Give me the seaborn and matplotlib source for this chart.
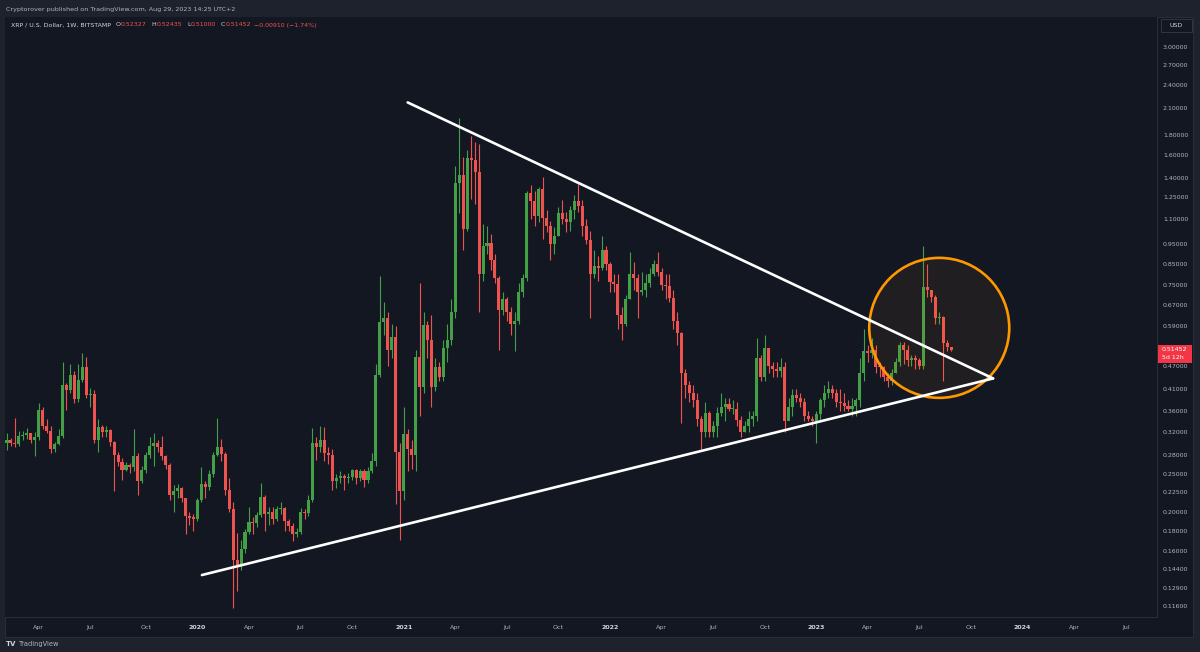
"""XRP/USD weekly candles with the triangle drawn on a TradingView style dark chart."""
import matplotlib
matplotlib.use("Agg")
import matplotlib.pyplot as plt
import matplotlib.dates as mdates
from matplotlib.patches import Rectangle, Ellipse
from matplotlib.ticker import FixedLocator, NullLocator, FuncFormatter
import numpy as np
import pandas as pd
import seaborn as sns

W, H = 1200, 652

# weekly bars, the first one is the week of 2019-02-04
FIRST_WEEK = "2019-02-04"
FIRST_OPEN = 0.299

closes = [
    # 2019
    0.305, 0.300, 0.297, 0.312, 0.314, 0.317, 0.305, 0.310, 0.362, 0.330, 0.322, 0.290,
    0.298, 0.312, 0.420, 0.408, 0.445, 0.387, 0.432, 0.467, 0.395, 0.398, 0.305, 0.329,
    0.320, 0.323, 0.302, 0.280, 0.268, 0.256, 0.264, 0.260, 0.278, 0.240, 0.256, 0.280,
    0.295, 0.300, 0.292, 0.277, 0.264, 0.221, 0.226, 0.230, 0.217, 0.196, 0.194, 0.193,
    # 2020
    0.215, 0.236, 0.232, 0.250, 0.280, 0.292, 0.281, 0.228, 0.204, 0.152, 0.147, 0.162,
    0.179, 0.189, 0.188, 0.197, 0.219, 0.198, 0.200, 0.192, 0.204, 0.205, 0.190, 0.185,
    0.176, 0.178, 0.200, 0.199, 0.215, 0.300, 0.292, 0.305, 0.283, 0.280, 0.240, 0.245,
    0.247, 0.244, 0.246, 0.256, 0.244, 0.254, 0.242, 0.255, 0.270, 0.445, 0.606, 0.620,
    0.513, 0.556, 0.285, 0.226,
    # 2021
    0.315, 0.290, 0.280, 0.495, 0.415, 0.596, 0.545, 0.415, 0.467, 0.440, 0.520, 0.545,
    0.640, 1.356, 1.420, 1.040, 1.570, 1.550, 1.450, 0.800, 0.940, 0.960, 0.870, 0.780,
    0.650, 0.690, 0.640, 0.600, 0.610, 0.720, 0.780, 1.280, 1.220, 1.120, 1.310, 1.110,
    1.060, 0.950, 1.000, 1.140, 1.100, 1.080, 1.160, 1.220, 1.190, 1.060, 0.975, 0.800,
    0.840, 0.830, 0.920, 0.850,
    # 2022
    0.765, 0.755, 0.630, 0.600, 0.690, 0.800, 0.780, 0.720, 0.730, 0.760, 0.800, 0.850,
    0.810, 0.750, 0.745, 0.695, 0.610, 0.567, 0.449, 0.420, 0.400, 0.385, 0.345, 0.320,
    0.356, 0.320, 0.330, 0.356, 0.370, 0.375, 0.365, 0.365, 0.343, 0.320, 0.330, 0.345,
    0.350, 0.490, 0.440, 0.520, 0.470, 0.460, 0.455, 0.465, 0.340, 0.370, 0.395, 0.390,
    0.380, 0.350, 0.345, 0.340,
    # 2023
    0.355, 0.385, 0.400, 0.410, 0.400, 0.380, 0.378, 0.372, 0.366, 0.372, 0.385, 0.450,
    0.510, 0.505, 0.515, 0.467, 0.465, 0.440, 0.430, 0.450, 0.480, 0.530, 0.515, 0.485,
    0.490, 0.485, 0.470, 0.740, 0.730, 0.700, 0.620, 0.623, 0.535, 0.52327, 0.51452,
]

highs = [
    # 2019
    0.318, 0.309, 0.346, 0.321, 0.322, 0.326, 0.318, 0.319, 0.378, 0.370, 0.345, 0.330,
    0.302, 0.325, 0.480, 0.425, 0.475, 0.455, 0.475, 0.505, 0.495, 0.412, 0.408, 0.345,
    0.332, 0.330, 0.325, 0.303, 0.285, 0.275, 0.268, 0.267, 0.325, 0.282, 0.262, 0.285,
    0.310, 0.318, 0.305, 0.312, 0.280, 0.266, 0.235, 0.236, 0.232, 0.218, 0.200, 0.198,
    # 2020
    0.218, 0.260, 0.240, 0.256, 0.284, 0.346, 0.307, 0.284, 0.245, 0.212, 0.177, 0.170,
    0.182, 0.206, 0.195, 0.200, 0.237, 0.222, 0.206, 0.207, 0.208, 0.213, 0.207, 0.192,
    0.188, 0.183, 0.205, 0.204, 0.222, 0.327, 0.310, 0.330, 0.328, 0.292, 0.290, 0.250,
    0.254, 0.250, 0.252, 0.258, 0.258, 0.258, 0.257, 0.260, 0.283, 0.475, 0.790, 0.680,
    0.640, 0.600, 0.590, 0.300,
    # 2021
    0.370, 0.325, 0.305, 0.515, 0.758, 0.640, 0.610, 0.630, 0.490, 0.480, 0.545, 0.600,
    0.690, 1.500, 1.980, 1.580, 1.650, 1.780, 1.720, 1.700, 1.070, 1.060, 1.010, 0.900,
    0.790, 0.720, 0.700, 0.660, 0.640, 0.760, 0.800, 1.300, 1.340, 1.300, 1.330, 1.410,
    1.160, 1.090, 1.050, 1.180, 1.230, 1.150, 1.190, 1.270, 1.350, 1.230, 1.100, 1.030,
    0.920, 0.890, 1.000, 0.940,
    # 2022
    0.860, 0.800, 0.800, 0.660, 0.710, 0.910, 0.860, 0.800, 0.810, 0.800, 0.830, 0.870,
    0.910, 0.830, 0.800, 0.800, 0.730, 0.640, 0.570, 0.460, 0.430, 0.420, 0.400, 0.350,
    0.380, 0.360, 0.340, 0.370, 0.400, 0.390, 0.390, 0.385, 0.380, 0.350, 0.340, 0.360,
    0.360, 0.550, 0.500, 0.560, 0.520, 0.480, 0.480, 0.490, 0.480, 0.390, 0.410, 0.410,
    0.400, 0.390, 0.360, 0.350,
    # 2023
    0.360, 0.390, 0.420, 0.430, 0.420, 0.410, 0.410, 0.400, 0.385, 0.390, 0.390, 0.490,
    0.580, 0.530, 0.550, 0.530, 0.480, 0.470, 0.450, 0.460, 0.490, 0.540, 0.540, 0.530,
    0.500, 0.500, 0.490, 0.940, 0.850, 0.730, 0.710, 0.640, 0.625, 0.545, 0.52435,
]

lows = [
    # 2019
    0.288, 0.294, 0.292, 0.294, 0.305, 0.306, 0.300, 0.278, 0.305, 0.325, 0.318, 0.283,
    0.285, 0.296, 0.308, 0.362, 0.400, 0.378, 0.380, 0.428, 0.388, 0.370, 0.300, 0.285,
    0.310, 0.310, 0.295, 0.226, 0.262, 0.242, 0.254, 0.252, 0.255, 0.221, 0.238, 0.252,
    0.275, 0.262, 0.285, 0.272, 0.258, 0.215, 0.201, 0.218, 0.212, 0.176, 0.186, 0.180,
    # 2020
    0.190, 0.212, 0.217, 0.228, 0.246, 0.278, 0.270, 0.222, 0.200, 0.115, 0.127, 0.143,
    0.158, 0.176, 0.176, 0.184, 0.195, 0.180, 0.186, 0.187, 0.190, 0.198, 0.180, 0.180,
    0.169, 0.173, 0.176, 0.193, 0.196, 0.213, 0.271, 0.285, 0.270, 0.265, 0.228, 0.231,
    0.238, 0.228, 0.238, 0.242, 0.236, 0.240, 0.232, 0.237, 0.252, 0.262, 0.440, 0.560,
    0.470, 0.490, 0.210, 0.170,
    # 2021
    0.215, 0.255, 0.258, 0.255, 0.350, 0.400, 0.490, 0.370, 0.405, 0.430, 0.430, 0.480,
    0.530, 0.620, 1.140, 0.920, 1.030, 1.240, 1.200, 0.640, 0.770, 0.900, 0.820, 0.760,
    0.514, 0.630, 0.610, 0.560, 0.510, 0.600, 0.700, 0.770, 1.100, 1.060, 1.080, 0.980,
    1.020, 0.870, 0.900, 1.000, 1.070, 1.020, 1.030, 1.100, 1.150, 1.000, 0.950, 0.620,
    0.780, 0.770, 0.820, 0.820,
    # 2022
    0.720, 0.720, 0.580, 0.545, 0.590, 0.690, 0.730, 0.620, 0.710, 0.700, 0.740, 0.790,
    0.790, 0.730, 0.690, 0.680, 0.580, 0.530, 0.337, 0.390, 0.380, 0.370, 0.330, 0.290,
    0.310, 0.310, 0.310, 0.310, 0.350, 0.340, 0.360, 0.355, 0.330, 0.310, 0.320, 0.320,
    0.330, 0.340, 0.430, 0.430, 0.450, 0.440, 0.440, 0.440, 0.320, 0.350, 0.350, 0.380,
    0.370, 0.340, 0.340, 0.330,
    # 2023
    0.300, 0.340, 0.370, 0.390, 0.390, 0.370, 0.360, 0.360, 0.360, 0.350, 0.350, 0.370,
    0.430, 0.480, 0.490, 0.450, 0.440, 0.430, 0.415, 0.420, 0.450, 0.470, 0.475, 0.470,
    0.470, 0.460, 0.460, 0.460, 0.700, 0.680, 0.600, 0.600, 0.430, 0.510, 0.51000,
]

# drawn trend lines and the highlight circle
upper_line_dates = ["2021-01-11", "2023-11-10"]
upper_line_prices = [2.17, 0.436]
lower_line_dates = ["2020-01-14", "2023-11-10"]
lower_line_prices = [0.139, 0.436]
circle_date = "2023-08-07"
circle_price = 0.585

price_ticks = [3.0, 2.7, 2.4, 2.1, 1.8, 1.6, 1.4, 1.25, 1.1, 0.95, 0.85, 0.75, 0.67,
               0.59, 0.52, 0.47, 0.41, 0.36, 0.32, 0.28, 0.25, 0.225, 0.2, 0.18, 0.16,
               0.144, 0.129, 0.116]

header_text = "Cryptorover published on TradingView.com, Aug 29, 2023 14:25 UTC+2"
legend_parts = [
    ("XRP / U.S. Dollar, 1W, BITSTAMP", "label", 5), ("O", "label", 0), ("0.52327", "value", 5),
    ("H", "label", 0), ("0.52435", "value", 5), ("L", "label", 0), ("0.51000", "value", 5),
    ("C", "label", 0), ("0.51452", "value", 3), ("\u22120.00910 (\u22121.74%)", "value", 0),
]

OUTER = "#1e222d"
BG = "#131722"
BORDER = "#2a2e39"
TXT = "#b2b5be"
TXT_HI = "#d1d4dc"
UP = "#43a047"
DOWN = "#ef5350"
ORANGE = "#ff9800"

sns.set_theme(style="dark")
plt.rcParams["font.family"] = ["DejaVu Sans"]


def fx(px):
    return px / W


def fy(py):
    return 1 - py / H


fig = plt.figure(figsize=(W / 100, H / 100), dpi=100)
fig.patch.set_facecolor(OUTER)

# chart panel with the price and time scales
fig.add_artist(Rectangle((fx(5), fy(637)), 1188 / W, 620 / H, transform=fig.transFigure,
                         facecolor=BG, edgecolor=BORDER, lw=0.7, zorder=0))

ax = fig.add_axes([fx(5), fy(617), 1152 / W, 600 / H])
ax.set_facecolor(BG)
ax.grid(False)
for side in ("top", "left"):
    ax.spines[side].set_visible(False)
for side in ("right", "bottom"):
    ax.spines[side].set_color(BORDER)
    ax.spines[side].set_linewidth(0.7)

# candles
dates = pd.date_range(FIRST_WEEK, periods=len(closes), freq="7D")
opens = [FIRST_OPEN] + closes[:-1]
df = pd.DataFrame({"date": dates, "open": opens, "high": highs, "low": lows, "close": closes})
df["color"] = np.where(df["close"] >= df["open"], UP, DOWN)
df["body_lo"] = df[["open", "close"]].min(axis=1)
df["body_hi"] = np.maximum(df[["open", "close"]].max(axis=1), df["body_lo"] * 1.008)

ax.set_yscale("log")
ax.vlines(df["date"], df["low"], df["high"], colors=df["color"], lw=0.8, zorder=2)
ax.bar(df["date"], df["body_hi"] - df["body_lo"], bottom=df["body_lo"], width=5.4,
       color=df["color"], lw=0, zorder=2)

# trend lines
trend = pd.DataFrame({
    "date": pd.to_datetime(upper_line_dates + lower_line_dates),
    "price": upper_line_prices + lower_line_prices,
    "line": ["upper"] * 2 + ["lower"] * 2,
})
sns.lineplot(data=trend, x="date", y="price", units="line", estimator=None, color="white",
             lw=1.9, ax=ax, legend=False, zorder=4)

ax.set_xlim(pd.Timestamp("2019-01-31 12:00"), pd.Timestamp("2024-08-25 05:00"))
ax.set_ylim(0.1089, 3.566)
ax.set_xlabel("")
ax.set_ylabel("")

# price scale on the right
ax.yaxis.tick_right()
ax.yaxis.set_major_locator(FixedLocator(price_ticks))
ax.yaxis.set_minor_locator(NullLocator())
ax.yaxis.set_major_formatter(FuncFormatter(lambda v, _: f"{v:.5f}"))
ax.tick_params(axis="y", length=0, pad=4.3, labelsize=4.5, labelcolor=TXT)

# time scale: label sits on the first weekly bar of each quarter
bar_days = pd.date_range(FIRST_WEEK, "2024-12-30", freq="7D")
tick_pos, tick_lab, tick_year = [], [], []
for m in pd.date_range("2019-04-01", "2024-07-01", freq="QS"):
    tick_pos.append(mdates.date2num(bar_days[bar_days >= m][0]))
    tick_lab.append(str(m.year) if m.month == 1 else m.strftime("%b"))
    tick_year.append(m.month == 1)
ax.set_xticks(tick_pos)
ax.set_xticklabels(tick_lab)
ax.tick_params(axis="x", length=0, pad=5.5, labelsize=4.5, labelcolor=TXT)
for lab, is_year in zip(ax.get_xticklabels(), tick_year):
    if is_year:
        lab.set_fontweight("bold")
        lab.set_color(TXT_HI)

# highlight circle (radius ~70 px)
cx, cy = ax.transAxes.inverted().transform(
    ax.transData.transform((mdates.date2num(pd.Timestamp(circle_date)), circle_price)))
ax.add_patch(Ellipse((cx, cy), 140 / 1152, 140 / 600, transform=ax.transAxes,
                     facecolor=(1.0, 0.6, 0.0, 0.06), edgecolor=ORANGE, lw=1.9, zorder=3))

# last price marker on the scale
_, last_y = ax.transData.transform((mdates.date2num(df["date"].iloc[-1]), closes[-1]))
last_py = H - last_y
fig.add_artist(Rectangle((fx(1158), fy(last_py + 13)), 34 / W, 18 / H, transform=fig.transFigure,
                         facecolor="#f23645", edgecolor="none", zorder=5))
fig.text(fx(1162), fy(last_py), f"{closes[-1]:.5f}", color="white", fontsize=4.5,
         va="center", ha="left", zorder=6)
fig.text(fx(1162), fy(last_py + 8), "5d 12h", color="white", fontsize=4.5,
         va="center", ha="left", zorder=6)

# currency box
fig.add_artist(Rectangle((fx(1161), fy(32)), 31 / W, 13 / H, transform=fig.transFigure,
                         facecolor=BG, edgecolor="#363a45", lw=0.6, zorder=5))
fig.text(fx(1176.5), fy(25.5), "USD", color=TXT_HI, fontsize=4.5, va="center", ha="center", zorder=6)

# header and legend
fig.text(fx(6), fy(9), header_text, color=TXT, fontsize=4.6, va="center", ha="left")
renderer = fig.canvas.get_renderer()
x = 11
for text, kind, gap in legend_parts:
    t = fig.text(fx(x), fy(25), text, color=TXT_HI if kind == "label" else DOWN,
                 fontsize=4.5, va="center", ha="left")
    x += t.get_window_extent(renderer).width + gap

# footer logo
fig.text(fx(6), fy(644), "TV", color=TXT_HI, fontsize=5, fontweight="bold", va="center", ha="left")
fig.text(fx(19), fy(644), "TradingView", color=TXT, fontsize=4.8, va="center", ha="left")

fig.savefig("out.png", dpi=100, facecolor=OUTER)
plt.close(fig)
